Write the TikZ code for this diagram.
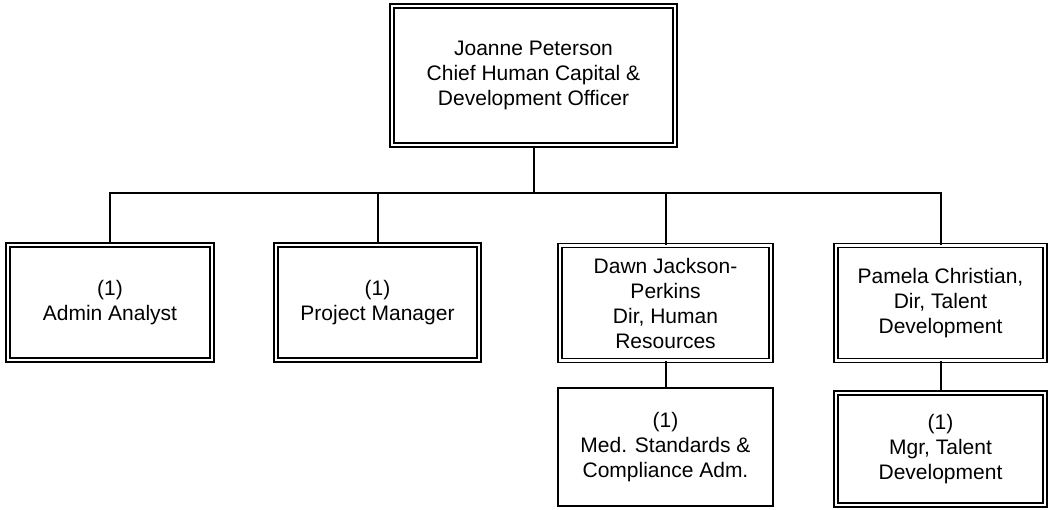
\documentclass[tikz,border=0pt]{standalone}
\usepackage{fontspec}
\setmainfont{Liberation Sans}
\tikzset{
  post/.style={draw, double, double distance=2.6pt, line width=1.5pt, align=center,
    inner sep=0pt, font=\fontsize{21}{25}\selectfont},
  postsingle/.style={draw, line width=2pt, align=center,
    inner sep=0pt, font=\fontsize{21}{25}\selectfont},
  link/.style={line width=2pt}
}
\begin{document}
\begin{tikzpicture}[x=1pt, y=-1pt]
	\useasboundingbox (0,0) rectangle (1049,510);

	%top
	\node[post, minimum width=283, minimum height=139] (ceo) at (533.5,75.5)
	  {Joanne Peterson\\Chief Human Capital \&\\Development Officer};

	%second row
	\node[post, minimum width=204, minimum height=115] (analyst) at (110,302.5) {(1)\\Admin Analyst};
	\node[post, minimum width=203, minimum height=115] (projmgr) at (377.5,302.5) {(1)\\Project Manager};
	\node[post, minimum width=211, minimum height=115] (hrdir) at (665.5,303)
	  {Dawn Jackson-\\Perkins\\Dir, Human\\Resources};
	\node[post, minimum width=209, minimum height=115] (talentdir) at (940.5,303)
	  {Pamela Christian,\\Dir, Talent\\Development};

	%third row
	\node[postsingle, minimum width=215, minimum height=118] (medadm) at (665.5,447)
	  {(1)\\Med. Standards \&\\Compliance Adm.};
	\node[post, minimum width=209, minimum height=112] (talentmgr) at (940.5,449)
	  {(1)\\Mgr, Talent\\Development};

	%links
	\coordinate (bus) at (533.5,193);
	\draw[link] (ceo.south) -- (bus);
	\draw[link] (analyst.north) |- (bus) -| (talentdir.north);
	\draw[link] (projmgr.north) -- (projmgr.north |- bus);
	\draw[link] (hrdir.north) -- (hrdir.north |- bus);
	\draw[link] (hrdir.south) -- (medadm.north);
	\draw[link] (talentdir.south) -- (talentmgr.north);
\end{tikzpicture}
\end{document}
